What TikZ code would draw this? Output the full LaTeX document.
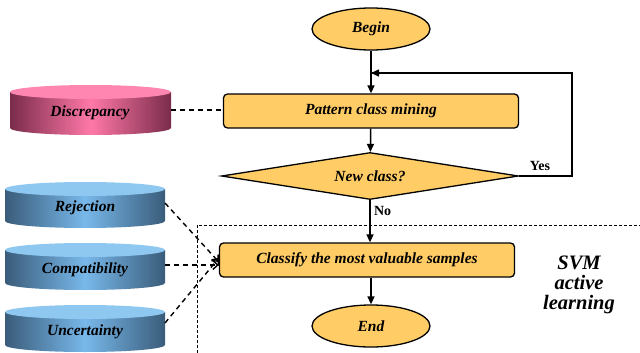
\documentclass[tikz,border=0pt]{standalone}
\usepackage{fontspec}
\setmainfont{Liberation Serif}
\usetikzlibrary{shapes.geometric,arrows.meta}
\definecolor{gold}{HTML}{FFCC66}
\definecolor{pinkdark}{HTML}{7A2C4A}
\definecolor{pinklight}{HTML}{FF78A8}
\definecolor{pinktop}{HTML}{FF86B0}
\definecolor{bluedark}{HTML}{3A5C7A}
\definecolor{bluelight}{HTML}{78B8EA}
\definecolor{bluetop}{HTML}{8EC8F0}
\newcommand\mycyl[7]{% x1 x2 ytop ybot dark light top
  \pgfmathsetmacro\cylxc{(#1+#2)/2}
  \pgfmathsetmacro\cylrx{(#2-#1)/2}
  \shade[left color=#5, right color=#5, middle color=#6]
    (#1,#3) -- (#1,#4) arc[start angle=180,end angle=360,x radius=\cylrx pt,y radius=7pt] -- (#2,#3) -- cycle;
  \fill[#7] (\cylxc,#3) ellipse[x radius=\cylrx pt,y radius=7pt];
}
\tikzset{
  txt/.style={font=\bfseries\itshape\fontsize{15.5}{18}\selectfont},
  term/.style={ellipse, draw, line width=1.3pt, fill=gold, minimum width=118pt, minimum height=42pt, inner sep=0pt, txt},
  proc/.style={rectangle, rounded corners=4pt, draw, line width=1.3pt, fill=gold, minimum width=295pt, minimum height=34pt, inner sep=0pt, txt},
  dec/.style={diamond, aspect=8, draw, line width=1.3pt, fill=gold, minimum width=297pt, minimum height=47pt, inner sep=0pt, txt},
  flow/.style={line width=1.5pt, -{Triangle[length=8pt,width=7pt]}},
  dline/.style={line width=1.4pt, dash pattern=on 5pt off 4pt},
  darr/.style={dline, -{Straight Barb[length=5pt,width=9pt]}},
  lbl/.style={font=\bfseries\fontsize{14}{16}\selectfont},
}
\begin{document}
\begin{tikzpicture}[x=1pt,y=-1pt]
\useasboundingbox (0,0) rectangle (640,353);
% dashed frame
\draw[line width=0.6pt, dash pattern=on 3pt off 2pt] (197,353) -- (197,225) -- (640,225);
% flowchart
\node[term] (begin) at (371,29) {Begin};
\node[proc] (pcm) at (371,111) {Pattern class mining};
\node[dec] (newc) at (370,176) {New class?};
\node[proc] (cls) at (367,260) {Classify the most valuable samples};
\node[term] (end) at (371,326) {End};
\coordinate (loopc) at (371,73);
\draw[flow] (begin) -- (pcm);
\draw[flow] (pcm) -- (newc);
\draw[line width=1.5pt] (newc.east) -| (572,73) -- ([xshift=-0.75pt]loopc);
\draw[flow] (572,73) -- (loopc);
\node[lbl] (yes) at (540,166) {Yes};
\draw[flow] (newc.south) -- (newc.south |- cls.north) node[pos=0.25, right, lbl] (no) {No};
\draw[flow] (end.north |- cls.south) -- (end);
\node[font=\bfseries\itshape\fontsize{20.5}{23}\selectfont, align=center] (svm) at (579,285) {SVM\\[-3pt]active\\[-3pt]learning};
% cylinders
\mycyl{10}{171}{92}{128}{pinkdark}{pinklight}{pinktop}
\node[txt] (disc) at (90,113) {Discrepancy};
\mycyl{5}{165}{189}{221}{bluedark}{bluelight}{bluetop}
\node[txt] (rej) at (85,208) {Rejection};
\mycyl{5}{165}{250}{283}{bluedark}{bluelight}{bluetop}
\node[txt] (comp) at (85,270) {Compatibility};
\mycyl{5}{165}{312}{345}{bluedark}{bluelight}{bluetop}
\node[txt] (unc) at (85,332) {Uncertainty};
% dashed connectors
\coordinate (discR) at (171,110);
\coordinate (rejR) at (165,203);
\coordinate (compR) at (165,265);
\coordinate (uncR) at (165,323);
\draw[dline] (discR) -- (pcm.west |- discR);
\draw[darr] (rejR) -- ([yshift=-2pt]cls.west);
\draw[darr] (compR) -- (cls.west |- compR);
\draw[darr] (uncR) -- ([yshift=2pt]cls.west);
\end{tikzpicture}
\end{document}
